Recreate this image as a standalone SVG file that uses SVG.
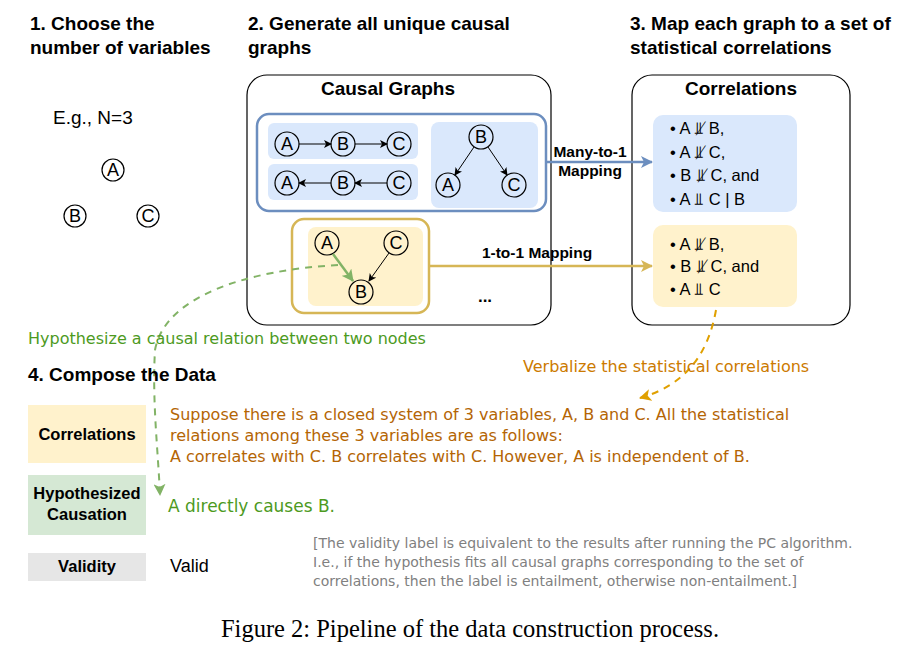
<svg xmlns="http://www.w3.org/2000/svg" width="914" height="662" viewBox="0 0 914 662">
<defs>
<style>
text{font-family:"Liberation Sans",Arial,sans-serif}
.h{font-size:19px;font-weight:bold}
.n circle{fill:none;stroke:#000;stroke-width:1.2}
.n text{font-size:18px;text-anchor:middle}
.e{stroke:#000;stroke-width:1;fill:none;marker-end:url(#ak)}
.c{font-size:16.5px}
.lb{font-size:16.5px;font-weight:bold;text-anchor:middle}
.dv{font-family:"DejaVu Sans",sans-serif}
.p{font-size:16px;fill:#b46504}
.g{font-size:14px;fill:#808080}
</style>
<marker id="ak" markerWidth="8" markerHeight="8" refX="7" refY="4" orient="auto" markerUnits="userSpaceOnUse"><path d="M0,0 L8,4 L0,8 L2,4z" fill="#000"/></marker>
<marker id="ab" markerWidth="12" markerHeight="12" refX="11" refY="6" orient="auto" markerUnits="userSpaceOnUse"><path d="M0,0 L12,6 L0,12 L3,6z" fill="#6c8ebf"/></marker>
<marker id="ay" markerWidth="12" markerHeight="12" refX="11" refY="6" orient="auto" markerUnits="userSpaceOnUse"><path d="M0,0 L12,6 L0,12 L3,6z" fill="#d6b656"/></marker>
<marker id="ag" markerWidth="12" markerHeight="12" refX="11" refY="6" orient="auto" markerUnits="userSpaceOnUse"><path d="M0,0 L12,6 L0,12 L3,6z" fill="#82b366"/></marker>
<marker id="ao" markerWidth="12" markerHeight="12" refX="11" refY="6" orient="auto" markerUnits="userSpaceOnUse"><path d="M0,0 L12,6 L0,12 L3,6z" fill="#e0a000"/></marker>
</defs>
<rect width="914" height="662" fill="#fff"/>
<g id="step1">
<text class="h" x="30" y="30">1. Choose the</text>
<text class="h" x="30" y="54">number of variables</text>
<text x="53" y="124" font-size="19">E.g., N=3</text>
<g class="n"><circle cx="113" cy="170" r="11"/><text x="113" y="176">A</text>
<circle cx="75" cy="216" r="11"/><text x="75" y="222">B</text>
<circle cx="148" cy="216" r="11"/><text x="148" y="222">C</text></g>
</g>
<g id="step2">
<text class="h" x="248" y="30">2. Generate all unique causal</text>
<text class="h" x="248" y="54">graphs</text>
<rect x="247" y="75" width="304" height="250" rx="20" fill="#fff" stroke="#000" stroke-width="1.2"/>
<text class="h" x="388" y="95" text-anchor="middle">Causal Graphs</text>
<rect x="257" y="114" width="289" height="97" rx="12" fill="#fff" stroke="#6c8ebf" stroke-width="2.5"/>
<rect x="268" y="123" width="150" height="36" rx="6" fill="#dae8fc"/>
<rect x="268" y="164" width="150" height="36" rx="6" fill="#dae8fc"/>
<rect x="431" y="122" width="107" height="86" rx="8" fill="#dae8fc"/>
<g class="n">
<circle cx="287" cy="144" r="12"/><text x="287" y="150">A</text>
<circle cx="343" cy="144" r="12"/><text x="343" y="150">B</text>
<circle cx="399" cy="144" r="12"/><text x="399" y="150">C</text>
<circle cx="287" cy="183" r="12"/><text x="287" y="189">A</text>
<circle cx="343" cy="183" r="12"/><text x="343" y="189">B</text>
<circle cx="399" cy="183" r="12"/><text x="399" y="189">C</text>
<circle cx="481" cy="137" r="12"/><text x="481" y="143">B</text>
<circle cx="448" cy="185" r="12"/><text x="448" y="191">A</text>
<circle cx="514" cy="185" r="12"/><text x="514" y="191">C</text>
</g>
<path class="e" d="M299,144 L331,144"/><path class="e" d="M355,144 L387,144"/>
<path class="e" d="M331,183 L299,183"/><path class="e" d="M387,183 L355,183"/>
<path class="e" d="M474,147 L455,175"/><path class="e" d="M488,147 L507,175"/>
<rect x="292" y="219" width="137" height="94" rx="12" fill="#fff" stroke="#d6b656" stroke-width="2.5"/>
<rect x="308" y="227" width="115" height="79" rx="8" fill="#fff2cc"/>
<g class="n">
<circle cx="327" cy="243" r="12"/><text x="327" y="249">A</text>
<circle cx="396" cy="243" r="12"/><text x="396" y="249">C</text>
<circle cx="361" cy="292" r="12"/><text x="361" y="298">B</text>
</g>
<path class="e" d="M389,253 L369,281"/>
<path d="M333,254 L353,281" stroke="#82b366" stroke-width="2.5" fill="none" marker-end="url(#ag)"/>
<text x="485" y="302" font-size="17" font-weight="bold" text-anchor="middle">...</text>
</g>
<g id="step3">
<text class="h" x="630" y="30">3. Map each graph to a set of</text>
<text class="h" x="630" y="54">statistical correlations</text>
<rect x="632" y="75" width="218" height="250" rx="20" fill="#fff" stroke="#000" stroke-width="1.2"/>
<text class="h" x="741" y="95" text-anchor="middle">Correlations</text>
<rect x="653" y="115" width="144" height="97" rx="10" fill="#dae8fc"/>
<rect x="653" y="225" width="144" height="82" rx="10" fill="#fff2cc"/>
<text class="c" x="670" y="134">• A ⫫̸ B,</text>
<text class="c" x="670" y="158">• A ⫫̸ C,</text>
<text class="c" x="670" y="181">• B ⫫̸ C, and</text>
<text class="c" x="670" y="205">• A ⫫ C | B</text>
<text class="c" x="670" y="250">• A ⫫̸ B,</text>
<text class="c" x="670" y="272">• B ⫫̸ C, and</text>
<text class="c" x="670" y="295">• A ⫫ C</text>
</g>
<g id="connectors">
<path d="M546,162 L652,162" stroke="#6c8ebf" stroke-width="2.5" fill="none" marker-end="url(#ab)"/>
<text x="590" y="157" font-size="15.5" font-weight="bold" text-anchor="middle">Many-to-1</text>
<text x="590" y="176" font-size="15.5" font-weight="bold" text-anchor="middle">Mapping</text>
<path d="M429,266 L652,266" stroke="#d6b656" stroke-width="2.5" fill="none" marker-end="url(#ay)"/>
<text x="537" y="258" font-size="15.5" font-weight="bold" text-anchor="middle">1-to-1 Mapping</text>
<path d="M338,265 C250,270 165,295 155,350 C152,400 158,450 160,495" stroke="#82b366" stroke-width="2" stroke-dasharray="7,6" fill="none" marker-end="url(#ag)"/>
<path d="M716,310 C708,355 685,385 640,398" stroke="#e0a000" stroke-width="2" stroke-dasharray="7,6" fill="none" marker-end="url(#ao)"/>
</g>
<text class="dv" x="28" y="344" font-size="16" fill="#4d9a1e">Hypothesize a causal relation between two nodes</text>
<text class="dv" x="523" y="372" font-size="16" fill="#cc7a00">Verbalize the statistical correlations</text>
<g id="step4">
<text class="h" x="28" y="381">4. Compose the Data</text>
<rect x="28" y="405" width="118" height="58" fill="#fff2cc"/>
<text class="lb" x="87" y="440">Correlations</text>
<rect x="28" y="475" width="118" height="60" fill="#d5e8d4"/>
<text class="lb" x="87" y="499">Hypothesized</text>
<text class="lb" x="87" y="520">Causation</text>
<rect x="28" y="553" width="118" height="28" fill="#e6e6e6"/>
<text class="lb" x="87" y="572">Validity</text>
<text class="p dv" x="170" y="420">Suppose there is a closed system of 3 variables, A, B and C. All the statistical</text>
<text class="p dv" x="170" y="441">relations among these 3 variables are as follows:</text>
<text class="p dv" x="170" y="462">A correlates with C. B correlates with C. However, A is independent of B.</text>
<text class="dv" x="168" y="512" font-size="17" fill="#4d9a1e">A directly causes B.</text>
<text x="170" y="572" font-size="18">Valid</text>
<text class="g dv" x="313" y="548">[The validity label is equivalent to the results after running the PC algorithm.</text>
<text class="g dv" x="313" y="567">I.e., if the hypothesis fits all causal graphs corresponding to the set of</text>
<text class="g dv" x="313" y="586">correlations, then the label is entailment, otherwise non-entailment.]</text>
</g>
<text x="470" y="637" font-size="24.5" text-anchor="middle" style="font-family:'Liberation Serif',serif">Figure 2: Pipeline of the data construction process.</text>
</svg>
